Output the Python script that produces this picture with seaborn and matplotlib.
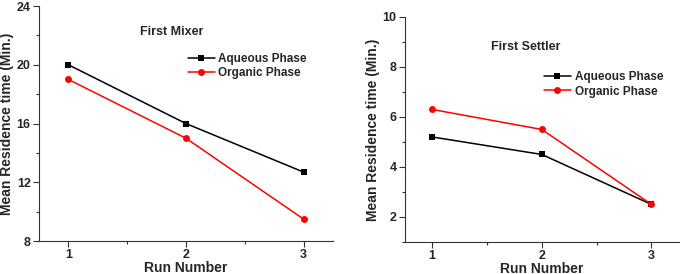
import matplotlib
matplotlib.use("Agg")
import matplotlib.pyplot as plt
from matplotlib.ticker import MultipleLocator
import seaborn as sns
import pandas as pd

# data
runs = [1, 2, 3]
mixer_aqueous = [20, 16, 12.7]
mixer_organic = [19, 15, 9.5]
settler_aqueous = [5.2, 4.5, 2.5]
settler_organic = [6.3, 5.5, 2.5]

sns.set_style("ticks")
plt.rcParams['font.family'] = ['Liberation Sans', 'DejaVu Sans']
plt.rcParams['font.weight'] = 'bold'

fig = plt.figure(figsize=(6.85, 2.74), dpi=100)
ax1 = fig.add_axes([0.057, 0.12, 0.429, 0.858])
ax2 = fig.add_axes([0.591, 0.117, 0.400, 0.821])


def panel(ax, aq, org, title, title_xy, ylim, major, minor, leg_anchor):
    df = pd.DataFrame({"run": runs * 2,
                       "value": aq + org,
                       "phase": ["Aqueous Phase"] * 3 + ["Organic Phase"] * 3})
    sns.lineplot(data=df, x="run", y="value", hue="phase", style="phase",
                 palette={"Aqueous Phase": "black", "Organic Phase": "red"},
                 markers={"Aqueous Phase": "s", "Organic Phase": "o"},
                 dashes=False, markersize=5, markeredgewidth=0, linewidth=1.1, ax=ax)
    ax.set_xlim(0.75, 3.25)
    ax.set_ylim(*ylim)
    ax.xaxis.set_major_locator(MultipleLocator(1))
    ax.xaxis.set_minor_locator(MultipleLocator(0.5))
    ax.yaxis.set_major_locator(MultipleLocator(major))
    ax.yaxis.set_minor_locator(MultipleLocator(minor))
    ax.tick_params(which='major', length=4, width=0.8, labelsize=9, pad=2,
                   color='#333333')
    ax.tick_params(which='minor', length=2, width=0.8, color='#333333')
    for s in ['left', 'bottom']:
        ax.spines[s].set_linewidth(0.8)
        ax.spines[s].set_color('#333333')
    sns.despine(ax=ax)
    ax.set_xlabel("Run Number", fontsize=10, fontweight='bold', labelpad=0)
    ax.set_ylabel("Mean Residence time (Min.)", fontsize=10, fontweight='bold', labelpad=2)
    ax.text(title_xy[0], title_xy[1], title, fontsize=9, fontweight='bold',
            ha='center', va='center')
    leg = ax.legend(loc='upper left', bbox_to_anchor=leg_anchor, frameon=False,
                    fontsize=8.5, handlelength=2.3, handletextpad=0.3,
                    labelspacing=0.2, borderaxespad=0)
    for t in leg.get_texts():
        t.set_fontweight('bold')


panel(ax1, mixer_aqueous, mixer_organic, "First Mixer", (1.88, 22.2),
      (8, 24), 4, 2, (0.49, 0.82))
panel(ax2, settler_aqueous, settler_organic, "First Settler", (1.85, 8.8),
      (1, 10), 2, 1, (0.49, 0.78))

fig.savefig("out.png", dpi=100)
